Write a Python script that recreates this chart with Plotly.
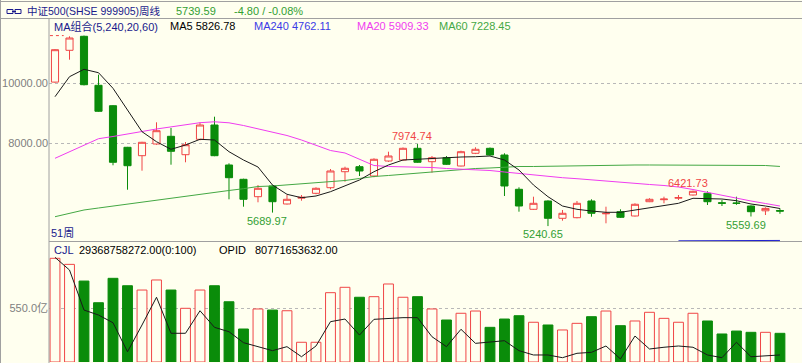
import plotly.graph_objects as go

W, H = 802, 363

# ---------------- data ----------------
weeks = list(range(51))

opens = [10040, 11100, 11567, 9933, 9253, 7867, 7587, 7977, 8233, 7620,
         8133, 8610, 7277, 6800, 6220, 6577, 5977, 6170, 6333, 6520,
         7053, 7220, 6910, 7410, 7443, 7833, 7387, 7520, 7243, 7667,
         7833, 7610, 6467, 5800, 6077, 5500, 5520, 6077, 5650, 5720,
         5577, 6053, 6120, 6170, 6277, 6333, 6020, 6010, 5910, 5750,
         5760]
highs = [11140, 11567, 11590, 10287, 9270, 7880, 8050, 8700, 8510, 8043,
         8700, 8887, 7333, 6820, 6610, 6600, 6277, 6277, 6533, 7143,
         7220, 7277, 7500, 7720, 7860, 7974.74, 7577, 7577, 7753, 7867,
         7860, 7667, 6533, 6220, 6100, 5777, 6077, 6133, 5887, 5800,
         6000, 6170, 6220, 6277, 6421.73, 6400, 6110, 6220, 5930, 5867,
         5830]
lows = [10020, 10787, 9930, 9050, 7267, 6453, 7087, 7950, 7287, 7367,
        8100, 7570, 6133, 5887, 6033, 5689.97, 5960, 6087, 6300, 6467,
        6720, 6910, 6867, 7380, 7420, 7350, 7020, 7280, 7230, 7640,
        7590, 6243, 5720, 5780, 5240.65, 5420, 5500, 5553, 5333, 5510,
        5560, 6040, 6000, 6110, 6260, 5943, 5910, 5950, 5559.69, 5610,
        5650]
closes = [11120, 11510, 9953, 9067, 7367, 7253, 8033, 8420, 7733, 7953,
          8610, 7587, 6853, 6133, 6500, 6053, 6133, 6200, 6500, 7077,
          7167, 7077, 7467, 7577, 7833, 7367, 7520, 7300, 7720, 7800,
          7610, 6577, 5910, 6000, 5500, 5667, 6000, 5667, 5667, 5533,
          5967, 6133, 6140, 6190, 6400, 6053, 6000, 6000, 5720, 5830,
          5739.59]

ma5 = [9553, 10220, 10467, 10353, 9833, 9110, 8387, 8053, 7800, 7943,
       8133, 8110, 7720, 7443, 7210, 6610, 6300, 6187, 6243, 6387,
       6577, 6777, 7053, 7277, 7443, 7467, 7500, 7533, 7543, 7553,
       7577, 7443, 7110, 6610, 6220, 5910, 5800, 5743, 5700, 5700,
       5777, 5867, 5920, 6000, 6167, 6167, 6143, 6087, 5977, 5910,
       5826.78]
ma20 = [7500, 7710, 7943, 8153, 8227, 8300, 8393, 8477, 8543, 8620,
        8687, 8717, 8683, 8593, 8477, 8360, 8260, 8110, 7927, 7760,
        7677, 7477, 7260, 7227, 7220, 7220, 7193, 7160, 7143, 7127,
        7093, 7043, 6993, 6943, 6910, 6853, 6820, 6777, 6743, 6693,
        6660, 6627, 6593, 6543, 6460, 6360, 6260, 6160, 6077, 5993,
        5909.33]
ma60 = [5553, 5660, 5777, 5843, 5910, 5977, 6037, 6100, 6167, 6233,
        6293, 6360, 6427, 6487, 6560, 6577, 6610, 6643, 6683, 6720,
        6760, 6827, 6893, 6927, 6967, 7000, 7060, 7087, 7117, 7160,
        7177, 7203, 7227, 7227, 7237, 7243, 7250, 7257, 7263, 7270,
        7277, 7277, 7277, 7277, 7277, 7277, 7277, 7277, 7270, 7260,
        7228.45]
ma240 = [None] * 43 + [4750, 4752, 4753, 4754, 4755, 4760, 4761, 4762.11]

# volume in 亿
volume = [1062, 1000, 829, 607, 857, 781, 737, 840, 737, 550,
          737, 781, 617, 338, 543, 532, 525, 202, 202, 710,
          765, 663, 669, 799, 663, 669, 543, 430, 499, 522,
          355, 440, 474, 407, 379, 328, 396, 464, 522, 372,
          420, 509, 447, 407, 499, 420, 287, 317, 304, 304,
          293.69]
opid = [1072, 942, 532, 481, 402, 105, 379, 663, 294, 294,
        525, 355, 310, 198, 157, 116, 157, 54, 164, 413,
        440, 276, 437, 447, 454, 454, 259, 157, 335, 191,
        202, 218, 116, 72, 72, 44, 89, 99, 164, 31,
        266, 133, 151, 164, 151, 72, 44, 202, 54, 61,
        72]

price_ticks = [8000, 10000]
price_tick_text = ["8000.00", "10000.00"]
vol_ticks = [550]
vol_tick_text = ["550.0亿"]

title_name = "中证500(SHSE 999905)周线"
title_price = "5739.59"
title_change = "-4.80 / -0.08%"
ma_group = "MA组合(5,240,20,60)"
ma_labels = [("MA5 5826.78", "#000000", 168), ("MA240 4762.11", "#3B3BE6", 252),
             ("MA20 5909.33", "#F03CF0", 355), ("MA60 7228.45", "#44A844", 437)]
period_label = "51周"

# ---------------- style ----------------
BG = "#FFFFEF"
RED = "#F04646"
GREEN = "#0A8C0A"
GRID = "#B8B8B8"
AXIS = "#A0A0A0"
NAVY = "#1A1A8C"
TXTGREEN = "#33A033"
FONT = "Liberation Sans, Noto Sans CJK SC, sans-serif"


def px(x):
    return x / W


def py(y):
    return 1 - y / H


up = [c >= o for o, c in zip(opens, closes)]
bar_fill = [BG if u else GREEN for u in up]
bar_line = [RED if u else GREEN for u in up]

fig = go.Figure()

fig.add_trace(go.Candlestick(
    x=weeks, open=opens, high=highs, low=lows, close=closes,
    increasing=dict(line=dict(color=RED, width=1), fillcolor=BG),
    decreasing=dict(line=dict(color=GREEN, width=1), fillcolor=GREEN),
    whiskerwidth=0, hoverinfo="skip", showlegend=False,
    xaxis="x", yaxis="y"))

for vals, col in [(ma60, "#44A844"), (ma20, "#F03CF0"), (ma240, "#2020D0"), (ma5, "#1A1A1A")]:
    fig.add_trace(go.Scatter(x=weeks, y=vals, mode="lines",
                             line=dict(color=col, width=1), hoverinfo="skip",
                             showlegend=False, xaxis="x", yaxis="y"))

fig.add_trace(go.Bar(x=weeks, y=volume, width=0.68,
                     marker=dict(color=bar_fill, line=dict(color=bar_line, width=1)),
                     hoverinfo="skip", showlegend=False, xaxis="x", yaxis="y2"))
fig.add_trace(go.Scatter(x=weeks, y=opid, mode="lines",
                         line=dict(color="#1A1A1A", width=1), hoverinfo="skip",
                         showlegend=False, xaxis="x", yaxis="y2"))

# ---------------- layout ----------------
x_left = 49
x_range = [-0.414, 51.52]

fig.update_layout(
    width=W, height=H,
    margin=dict(l=0, r=0, t=0, b=0),
    paper_bgcolor=BG, plot_bgcolor=BG,
    showlegend=False,
    font=dict(family=FONT, size=11, color="#000000"),
    xaxis=dict(domain=[px(x_left), 1], range=x_range, showgrid=False,
               showticklabels=False, zeroline=False, showline=False,
               ticks="", rangeslider=dict(visible=False), fixedrange=True,
               anchor="y2"),
    yaxis=dict(domain=[py(241), py(18)], range=[4743.3, 12176.7],
               tickvals=price_ticks, ticktext=price_tick_text,
               showgrid=True, gridcolor=GRID, griddash="dot", gridwidth=1,
               zeroline=False, showline=False, ticks="",
               tickfont=dict(color="#808080", size=11, family=FONT),
               fixedrange=True, anchor="x"),
    yaxis2=dict(domain=[py(362), py(242)], range=[0, 1229],
                tickvals=vol_ticks, ticktext=vol_tick_text,
                showgrid=True, gridcolor=GRID, griddash="dot", gridwidth=1,
                zeroline=False, showline=False, ticks="",
                tickfont=dict(color="#808080", size=11, family=FONT),
                fixedrange=True, anchor="x"),
)

shapes = []


def pline(x0, y0, x1, y1, color=AXIS, width=1, dash="solid"):
    shapes.append(dict(type="line", xref="paper", yref="paper",
                       x0=px(x0), y0=py(y0), x1=px(x1), y1=py(y1),
                       line=dict(color=color, width=width, dash=dash)))


pline(0, 1.5, W, 1.5)
pline(0, 18.5, W, 18.5)
pline(0.5, 0, 0.5, H)
pline(x_left, 18.5, x_left, H)
pline(x_left, 241.5, W, 241.5)

# small chain icon in the title bar
for x0 in (7, 15):
    shapes.append(dict(type="rect", xref="paper", yref="paper",
                       x0=px(x0), x1=px(x0 + 6), y0=py(13.5), y1=py(9.5),
                       line=dict(color=NAVY, width=1)))
pline(12, 11.5, 16, 11.5, color=NAVY)

# red dashed marker next to the highest candle
shapes.append(dict(type="line", xref="x", yref="y",
                   x0=-0.35, x1=0.6, y0=max(highs), y1=max(highs),
                   line=dict(color=RED, width=1, dash="dot")))

fig.update_layout(shapes=shapes)

ann = []


def text(x, y, s, color="#000000", size=11, xanchor="left"):
    ann.append(dict(xref="paper", yref="paper", x=px(x), y=py(y), text=s,
                    showarrow=False, xanchor=xanchor, yanchor="middle",
                    font=dict(family=FONT, size=size, color=color)))


text(25, 11, title_name, NAVY, 10.5)
text(174, 11, title_price, TXTGREEN)
text(232, 11, title_change, TXTGREEN)
text(52, 26, ma_group, NAVY)
for s, c, x in ma_labels:
    text(x, 26, s, c)
text(49, 233, period_label, NAVY)
text(52, 250, "CJL", NAVY)
text(77, 250, "29368758272.00(0:100)", "#000000")
text(217, 250, "OPID", "#000000")
text(253, 250, "80771653632.00", "#000000")

# high / low value labels attached to candles
hl_labels = [(25, highs[25], "high"), (44, highs[44], "high"),
             (15, lows[15], "low"), (34, lows[34], "low"), (48, lows[48], "low")]
for i, v, kind in hl_labels:
    ann.append(dict(xref="x", yref="y", x=i, y=v, text=f"{v:.2f}",
                    showarrow=False, xshift=-5,
                    yanchor="bottom" if kind == "high" else "top",
                    font=dict(family=FONT, size=11,
                              color=RED if kind == "high" else TXTGREEN)))

fig.update_layout(annotations=ann)

fig.write_html("out.html",
               config={"displayModeBar": False, "staticPlot": True},
               post_script="document.body.style.margin='0';document.body.style.padding='0';")
